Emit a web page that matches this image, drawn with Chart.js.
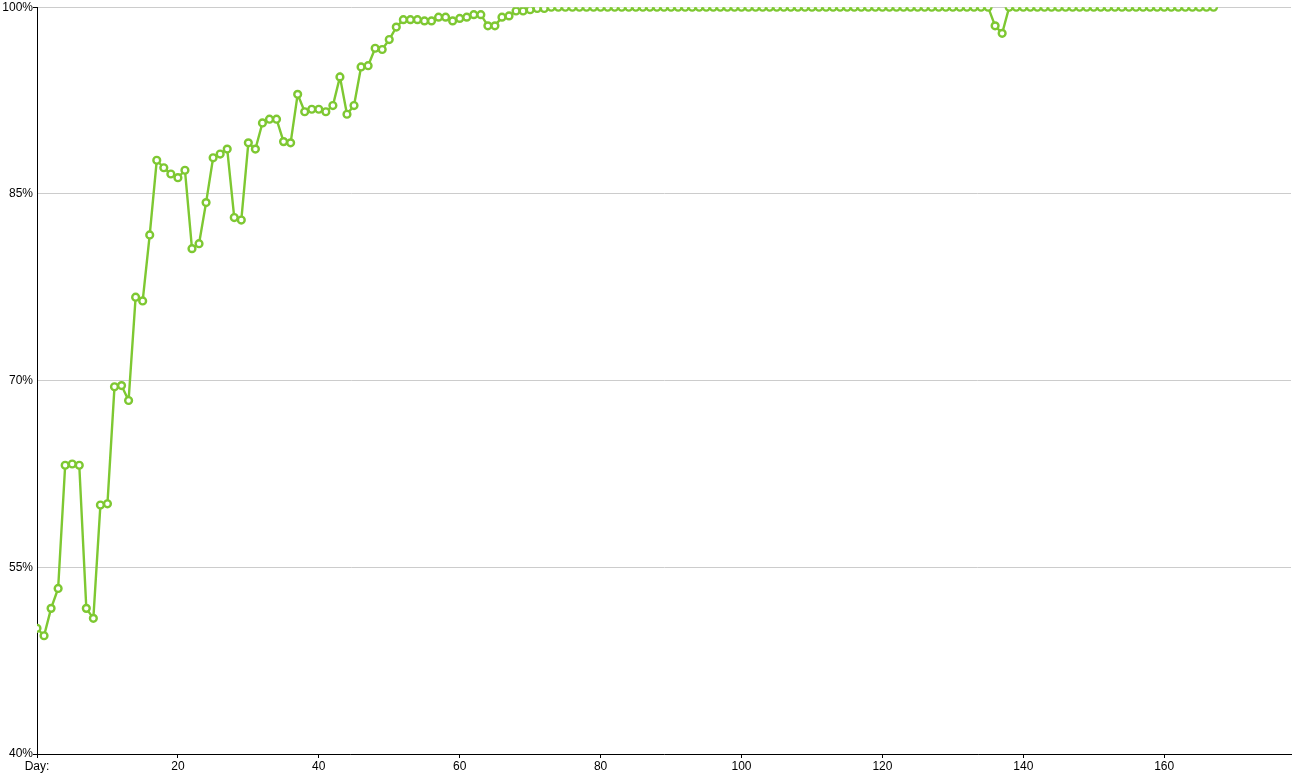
<!DOCTYPE html>
<html>
<head>
<meta charset="utf-8">
<script src="https://cdn.jsdelivr.net/npm/chart.js@4/dist/chart.umd.min.js"></script>
<style>
html,body{margin:0;padding:0;background:#fff;overflow:hidden;}
#wrap{position:absolute;left:0;top:0;width:1299px;height:778px;}
</style>
</head>
<body>
<div id="wrap"><canvas id="c" width="1299" height="778"></canvas></div>
<script>
// Share (%) per day, day 0 .. 167
const values = [
  50.1, 49.5, 51.7, 53.3, 63.2, 63.3, 63.2, 51.7, 50.9, 60.0,
  60.1, 69.5, 69.6, 68.4, 76.7, 76.4, 81.7, 87.7, 87.1, 86.6,
  86.3, 86.9, 80.6, 81.0, 84.3, 87.9, 88.2, 88.6, 83.1, 82.9,
  89.1, 88.6, 90.7, 91.0, 91.0, 89.2, 89.1, 93.0, 91.6, 91.8,
  91.8, 91.6, 92.1, 94.4, 91.4, 92.1, 95.2, 95.3, 96.7, 96.6,
  97.4, 98.4, 99.0, 99.0, 99.0, 98.9, 98.9, 99.2, 99.2, 98.9,
  99.1, 99.2, 99.4, 99.4, 98.5, 98.5, 99.2, 99.3, 99.7, 99.7,
  99.8, 99.9, 99.9, 100, 100, 100, 100, 100, 100, 100,
  100, 100, 100, 100, 100, 100, 100, 100, 100, 100,
  100, 100, 100, 100, 100, 100, 100, 100, 100, 100,
  100, 100, 100, 100, 100, 100, 100, 100, 100, 100,
  100, 100, 100, 100, 100, 100, 100, 100, 100, 100,
  100, 100, 100, 100, 100, 100, 100, 100, 100, 100,
  100, 100, 100, 100, 100, 100, 98.5, 97.9, 100, 100,
  100, 100, 100, 100, 100, 100, 100, 100, 100, 100,
  100, 100, 100, 100, 100, 100, 100, 100, 100, 100,
  100, 100, 100, 100, 100, 100, 100, 100
];
const days = values.map((v, i) => i);
const yTicks = [40, 55, 70, 85, 100];
const xTicks = [0, 20, 40, 60, 80, 100, 120, 140, 160];
const xLabelForZero = 'Day:';

const points = days.map((d, i) => ({ x: d, y: values[i] }));
const FONT = { family: '"Liberation Sans", Arial, sans-serif', size: 12 };

new Chart(document.getElementById('c'), {
  type: 'line',
  data: {
    datasets: [{
      data: points,
      borderColor: '#7ec832',
      borderWidth: 2.4,
      pointRadius: 3.4,
      pointBorderWidth: 2.4,
      pointBackgroundColor: '#ffffff',
      pointBorderColor: '#7ec832',
      tension: 0,
      clip: 0
    }]
  },
  options: {
    responsive: false,
    animation: false,
    events: [],
    layout: { padding: { top: 5, right: 8, left: 0, bottom: 0 } },
    plugins: { legend: { display: false }, tooltip: { enabled: false } },
    scales: {
      x: {
        type: 'linear',
        min: 0,
        max: 178,
        afterBuildTicks: (axis) => { axis.ticks = xTicks.map(v => ({ value: v })); },
        ticks: {
          includeBounds: false,
          color: '#000',
          font: FONT,
          padding: 1,
          maxRotation: 0,
          autoSkip: false,
          callback: (v) => (v === 0 ? xLabelForZero : String(v))
        },
        grid: { drawOnChartArea: false, drawTicks: true, tickLength: 4, tickColor: '#000' },
        border: { display: true, color: '#000', width: 1 },
        afterFit: (axis) => { axis.height = 24; }
      },
      y: {
        min: 40,
        max: 100,
        afterBuildTicks: (axis) => { axis.ticks = yTicks.map(v => ({ value: v })); },
        ticks: {
          color: '#000',
          font: FONT,
          padding: 0,
          callback: (v) => v + '%'
        },
        grid: {
          color: '#cccccc',
          lineWidth: 1,
          drawTicks: true,
          tickLength: 4,
          tickColor: (ctx) => (ctx.tick && (ctx.tick.value === 40 || ctx.tick.value === 100) ? '#000' : 'rgba(0,0,0,0)')
        },
        border: { display: true, color: '#000', width: 1 },
        afterFit: (axis) => { axis.width = 37; }
      }
    }
  }
});
</script>
</body>
</html>
